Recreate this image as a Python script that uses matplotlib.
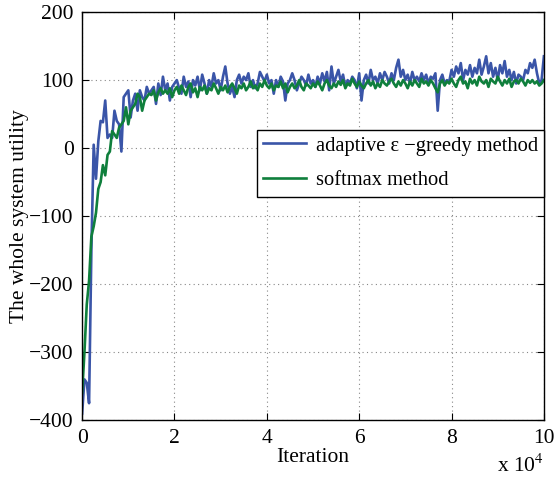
import numpy as np
import matplotlib
matplotlib.use("Agg")
import matplotlib.pyplot as plt

plt.rcParams['font.family'] = ['Liberation Serif', 'DejaVu Serif']

# iteration axis, in units of 1e4
iteration = np.arange(201) * 0.05

adaptive = [
    -390, -340, -345, -375, -150, 5, -45, 10, 40, 38,
    70, 15, 20, 15, 55, 40, 35, -5, 75, 80,
    85, 45, 70, 80, 55, 85, 75, 70, 90, 80,
    85, 90, 65, 95, 78, 105, 85, 95, 70, 90,
    95, 100, 88, 80, 105, 90, 98, 75, 100, 92,
    105, 85, 108, 95, 80, 100, 90, 110, 95, 100,
    85, 105, 120, 95, 80, 90, 75, 100, 108, 95,
    105, 100, 110, 90, 100, 88, 95, 112, 105, 98,
    108, 95, 100, 80, 100, 90, 105, 98, 70, 95,
    100, 110, 100, 85, 95, 105, 100, 92, 108, 95,
    100, 90, 105, 95, 110, 98, 112, 85, 120, 95,
    105, 115, 98, 108, 90, 100, 95, 105, 100, 88,
    110, 70, 100, 108, 95, 115, 100, 105, 95, 110,
    100, 112, 105, 95, 110, 100, 118, 130, 105, 115,
    100, 108, 95, 112, 100, 105, 98, 110, 100, 108,
    95, 105, 102, 110, 55, 100, 108, 95, 100, 98,
    115, 105, 120, 110, 125, 100, 115, 108, 122, 105,
    118, 110, 130, 108, 120, 135, 110, 125, 105, 118,
    100, 122, 110, 128, 105, 115, 100, 112, 95, 108,
    105, 100, 115, 110, 125, 118, 130, 110, 95, 100,
    135,
]

softmax = [
    -360, -300, -230, -195, -130, -115, -95, -60, -50, -25,
    -40, -10, -5, 25, 20, 15, 30, 35, 40, 60,
    35, 55, 60, 65, 80, 75, 55, 70, 75, 80,
    78, 85, 70, 82, 88, 80, 85, 80, 88, 75,
    85, 90, 80, 92, 85, 78, 90, 95, 82, 88,
    75, 90, 85, 92, 80, 88, 85, 95, 88, 80,
    90, 85, 92, 82, 90, 95, 88, 80, 92, 88,
    95, 85, 90, 98, 88, 92, 85, 95, 90, 100,
    92, 88, 95, 85, 92, 90, 98, 88, 95, 82,
    90, 95, 88, 92, 100, 90, 85, 95, 92, 88,
    95, 90, 98, 92, 85, 95, 100, 92, 88, 95,
    90, 98, 93, 100, 88, 95, 92, 102, 95, 90,
    98, 92, 88, 95, 100, 92, 98, 88, 95, 90,
    100, 95, 92, 98, 102, 95, 90, 98, 92, 100,
    95, 88, 98, 92, 100, 95, 90, 102, 95, 98,
    92, 100, 95, 88, 82, 95, 100, 92, 98, 95,
    102, 95, 90, 100, 105, 95, 98, 88, 102, 95,
    100, 92, 105, 98, 95, 100, 90, 102, 98, 95,
    105, 98, 92, 100, 95, 102, 90, 98, 100, 95,
    102, 98, 92, 100, 96, 100, 95, 98, 92, 95,
    100,
]

xticks = [0, 2, 4, 6, 8, 10]
yticks = [-400, -300, -200, -100, 0, 100, 200]

fig = plt.figure(figsize=(5.55, 4.83), dpi=100)
ax = fig.add_axes([0.148, 0.130, 0.832, 0.845])

ax.plot(iteration, adaptive, color='#3a55a8', lw=1.9, label='adaptive ε −greedy method')
ax.plot(iteration, softmax, color='#0f7f3c', lw=1.9, label='softmax method')

ax.set_xlim(0, 10)
ax.set_ylim(-400, 200)
ax.set_xticks(xticks)
ax.set_yticks(yticks)
ax.grid(True, linestyle=(0, (1, 3)), color='#888888', lw=0.8)
ax.tick_params(direction='in', top=True, right=True, labelsize=15.5, length=5, width=0.8, pad=6)
for s in ax.spines.values():
    s.set_linewidth(1.0)

ax.set_xlabel('Iteration', fontsize=15.5, labelpad=0)
ax.set_ylabel('The whole system utility', fontsize=15.5, labelpad=0)
ax.text(1.0, -0.085, r'x 10$^{4}$', transform=ax.transAxes, ha='right', va='top', fontsize=15.5,
        math_fontfamily='stix')

leg = ax.legend(loc='upper right', bbox_to_anchor=(1.0, 0.711), fontsize=14.8, fancybox=False,
                edgecolor='black', framealpha=1, borderaxespad=0, handlelength=2.1,
                handletextpad=0.45, borderpad=0.3, labelspacing=0.75)
leg.get_frame().set_linewidth(1.0)

fig.savefig('out.png', dpi=100)
